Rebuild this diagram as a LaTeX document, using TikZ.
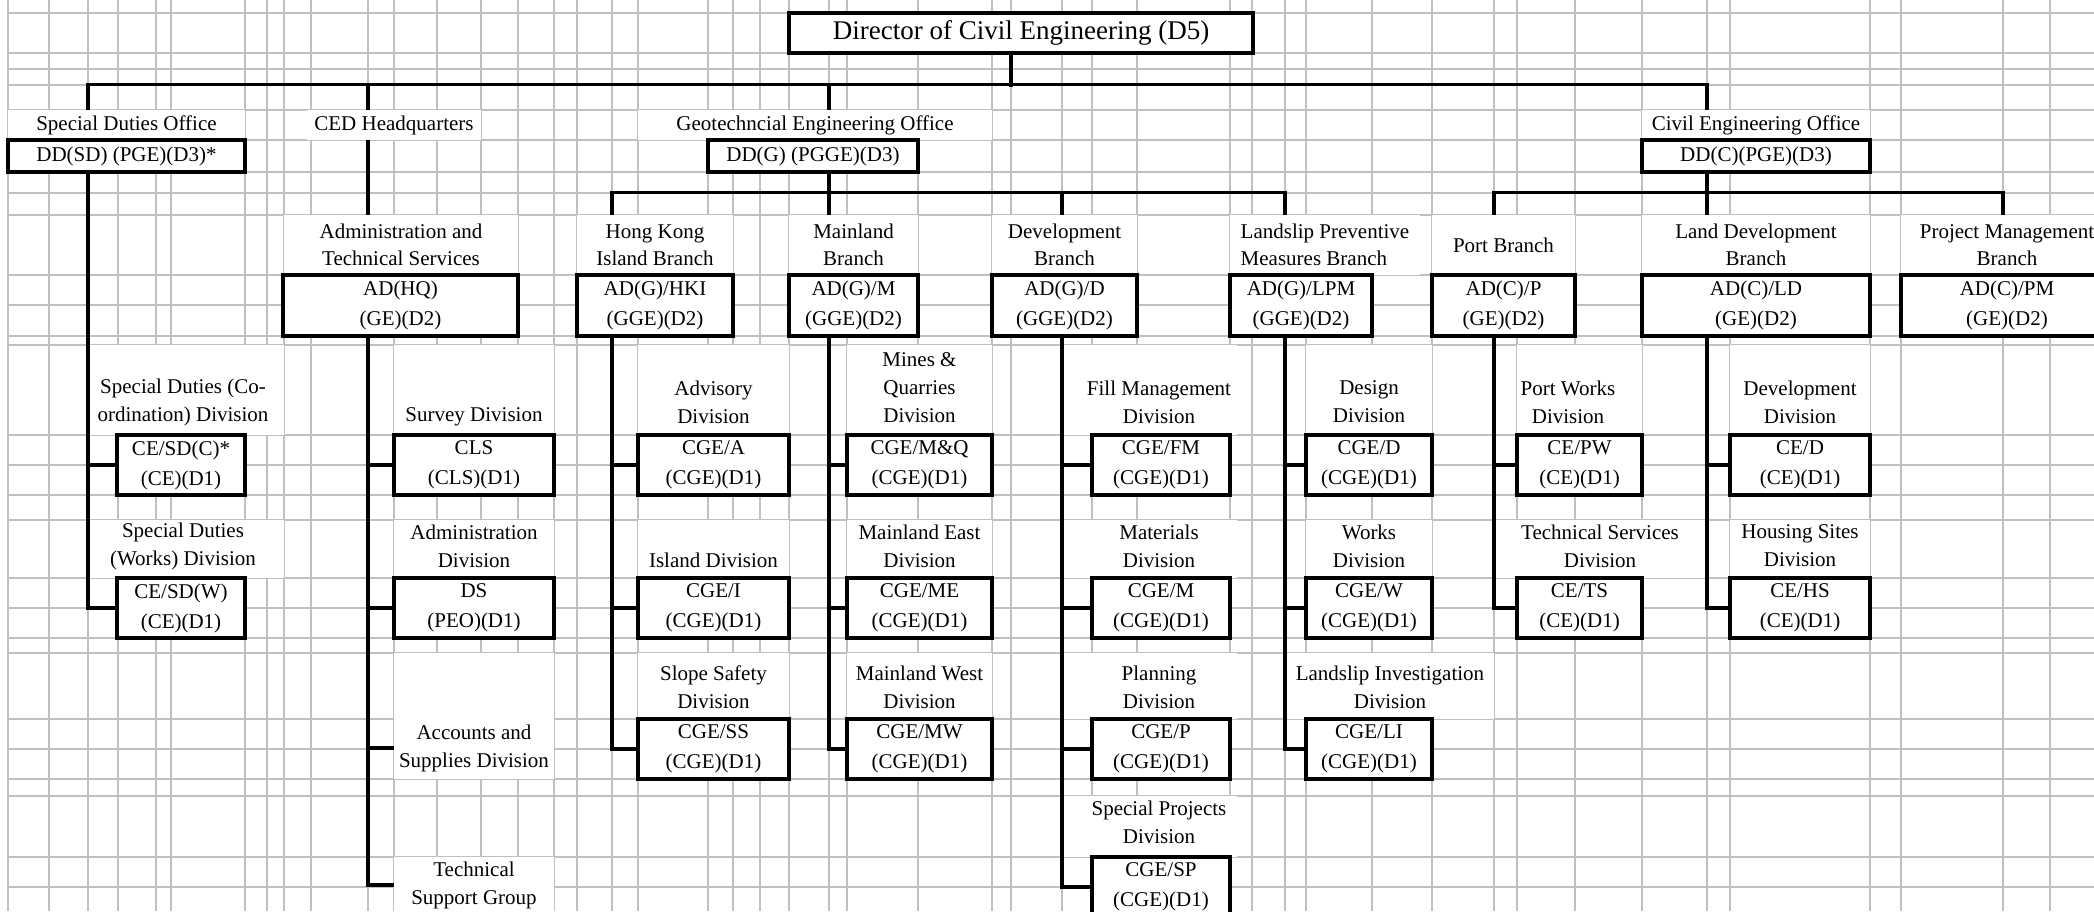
\documentclass[tikz,border=0pt]{standalone}
\usepackage{fontspec}
\setmainfont{Liberation Serif}
\usepackage{tikz}
\usetikzlibrary{positioning, calc}

\definecolor{gridgrey}{RGB}{192,192,192}
\tikzset{
  gridline/.style={draw=gridgrey, line width=1pt},
  link/.style={line width=1.8pt},
  post/.style 2 args={draw, line width=1.8pt, fill=white, align=center, inner sep=0pt,
    minimum width=#1*0.5pt, minimum height=#2*0.5pt, font=\fontsize{10.5}{15}\selectfont},
  cell/.style 2 args={fill=white, align=center, inner sep=0pt,
    minimum width=#1*0.5pt, minimum height=#2*0.5pt, font=\fontsize{10.5}{13.5}\selectfont},
  lbl/.style={align=center, inner sep=0pt, font=\fontsize{10.5}{14}\selectfont},
}

\begin{document}
\begin{tikzpicture}[x=0.5pt,y=-0.5pt]
      \useasboundingbox (0,0) rectangle (2094,911);
      \clip (0,0) rectangle (2094,911);
      % spreadsheet grid
      \foreach \gx in {8,49,88,118,156,171,245,267,284,311,368,394,437,481,518,554,577,612,638,708,733,760,789,829,847,918,992,1011,1062,1092,1137,1230,1252,1285,1306,1372,1432,1494,1517,1575,1642,1707,1730,1870,1901,2003,2050}
        \draw[gridline] (\gx,0) -- (\gx,911);
      \foreach \gy in {13,53,69,85,110,140,172,193,215,275,305,336,345,435,465,495,520,578,608,638,653,719,749,779,796,857,887}
        \draw[gridline] (8,\gy) -- (2094,\gy);
      % merged label cells
      \foreach \xa/\xb/\ya/\yb in {88/284/345/435, 88/284/520/578,
          394/554/345/435, 394/554/520/578, 394/554/653/779, 394/554/857/911,
          638/789/345/435, 638/789/520/578, 638/789/653/719,
          847/992/345/435, 847/992/520/578, 847/992/653/719,
          1062/1237/345/435, 1062/1237/520/578, 1062/1237/653/719, 1062/1237/796/857,
          1306/1432/345/435, 1306/1432/520/578, 1285/1494/653/719,
          1517/1642/345/435, 1494/1707/520/578,
          1730/1870/345/435, 1730/1870/520/578}
        \fill[white] (\xa,\ya) rectangle (\xb,\yb);

      % trunk columns
      \coordinate (xsd) at (88,0);
      \coordinate (xced) at (368,0);
      \coordinate (xhki) at (612,0);
      \coordinate (xml) at (829,0);
      \coordinate (xdce) at (1011,0);
      \coordinate (xdev) at (1062,0);
      \coordinate (xlpm) at (1285,0);
      \coordinate (xport) at (1494,0);
      \coordinate (xld) at (1707,0);
      \coordinate (xpm) at (2003,0);

      % director
      \node[post={464}{40}, line width=2.2pt, font=\fontsize{13.5}{16}\selectfont] (dce) at (1021,33) {Director of Civil Engineering (D5)};

      % offices
      \node[cell={237}{30}] (sdo) at (126.5,125) {Special Duties Office};
      \node[cell={174}{30}] (ced) at (394,125) {CED Headquarters};
      \node[cell={354}{30}] (geo) at (815,125) {Geotechncial Engineering Office};
      \node[cell={228}{30}] (ceo) at (1756,125) {Civil Engineering Office};
      \node[post={237}{32}] (ddsd) at (126.5,156) {DD(SD) (PGE)(D3)*};
      \node[post={210}{32}] (ddg) at (813,156) {DD(G) (PGGE)(D3)};
      \node[post={228}{32}] (ddc) at (1756,156) {DD(C)(PGE)(D3)};

      % branches
      \node[cell={234}{60}] (ats) at (401,245) {Administration and\\Technical Services};
      \node[cell={156}{60}] (hkb) at (655,245) {Hong Kong\\Island Branch};
      \node[cell={129}{60}] (mlb) at (853.5,245) {Mainland\\Branch};
      \node[cell={145}{60}] (dvb) at (1064.5,245) {Development\\Branch};
      \node[cell={190}{60}, align=left] (lpb) at (1325,245) {Landslip Preventive\\Measures Branch};
      \node[cell={143}{60}] (ptb) at (1503.5,245) {Port Branch};
      \node[cell={228}{60}] (ldb) at (1756,245) {Land Development\\Branch};
      \node[cell={212}{60}] (pmb) at (2007,245) {Project Management\\Branch};
      \node[post={235}{61}] (adhq) at (400.5,305.5) {AD(HQ)\\(GE)(D2)};
      \node[post={156}{61}] (adhki) at (655,305.5) {AD(G)/HKI\\(GGE)(D2)};
      \node[post={129}{61}] (adm) at (853.5,305.5) {AD(G)/M\\(GGE)(D2)};
      \node[post={145}{61}] (add) at (1064.5,305.5) {AD(G)/D\\(GGE)(D2)};
      \node[post={142}{61}] (adlpm) at (1301,305.5) {AD(G)/LPM\\(GGE)(D2)};
      \node[post={143}{61}] (adp) at (1503.5,305.5) {AD(C)/P\\(GE)(D2)};
      \node[post={228}{61}] (adld) at (1756,305.5) {AD(C)/LD\\(GE)(D2)};
      \node[post={212}{61}] (adpm) at (2007,305.5) {AD(C)/PM\\(GE)(D2)};

      % special duties divisions
      \node[lbl] (sdcl) at (183,402) {Special Duties (Co-\\ordination) Division};
      \node[post={128}{60}] (sdc) at (181,465) {CE/SD(C)*\\(CE)(D1)};
      \node[lbl] (sdwl) at (183,546) {Special Duties\\(Works) Division};
      \node[post={128}{60}] (sdw) at (181,608) {CE/SD(W)\\(CE)(D1)};

      % headquarters divisions
      \node[lbl] (svyl) at (474,417) {Survey Division};
      \node[post={160}{60}] (cls) at (474,465) {CLS\\(CLS)(D1)};
      \node[lbl] (adml) at (474,546) {Administration\\Division};
      \node[post={160}{60}] (ds) at (474,608) {DS\\(PEO)(D1)};
      \node[lbl, minimum width=80pt] (acc) at (474,748) {Accounts and\\Supplies Division};
      \node[lbl, minimum width=80pt] (tsg) at (474,885) {Technical\\Support Group};

      % geotechnical divisions
      \node[lbl] (advl) at (713.5,402) {Advisory\\Division};
      \node[post={151}{60}] (cgea) at (713.5,465) {CGE/A\\(CGE)(D1)};
      \node[lbl] (isdl) at (713.5,560) {Island Division};
      \node[post={151}{60}] (cgei) at (713.5,608) {CGE/I\\(CGE)(D1)};
      \node[lbl] (ssdl) at (713.5,687) {Slope Safety\\Division};
      \node[post={151}{60}] (cgess) at (713.5,749) {CGE/SS\\(CGE)(D1)};

      \node[lbl] (mqdl) at (919.5,388) {Mines \&\\Quarries\\Division};
      \node[post={145}{60}] (cgemq) at (919.5,465) {CGE/M\&Q\\(CGE)(D1)};
      \node[lbl] (medl) at (919.5,546) {Mainland East\\Division};
      \node[post={145}{60}] (cgeme) at (919.5,608) {CGE/ME\\(CGE)(D1)};
      \node[lbl] (mwdl) at (919.5,687) {Mainland West\\Division};
      \node[post={145}{60}] (cgemw) at (919.5,749) {CGE/MW\\(CGE)(D1)};

      \node[lbl] (fmdl) at (1159,402) {Fill Management\\Division};
      \node[post={138}{60}] (cgefm) at (1161,465) {CGE/FM\\(CGE)(D1)};
      \node[lbl] (matl) at (1159,546) {Materials\\Division};
      \node[post={138}{60}] (cgem) at (1161,608) {CGE/M\\(CGE)(D1)};
      \node[lbl] (plnl) at (1159,687) {Planning\\Division};
      \node[post={138}{60}] (cgep) at (1161,749) {CGE/P\\(CGE)(D1)};
      \node[lbl] (spdl) at (1159,822) {Special Projects\\Division};
      \node[post={138}{60}] (cgesp) at (1161,887) {CGE/SP\\(CGE)(D1)};

      \node[lbl] (desl) at (1369,402) {Design\\Division};
      \node[post={126}{60}] (cged) at (1369,465) {CGE/D\\(CGE)(D1)};
      \node[lbl] (wksl) at (1369,546) {Works\\Division};
      \node[post={126}{60}] (cgew) at (1369,608) {CGE/W\\(CGE)(D1)};
      \node[lbl] (lidl) at (1390,687) {Landslip Investigation\\Division};
      \node[post={126}{60}] (cgeli) at (1369,749) {CGE/LI\\(CGE)(D1)};

      % civil engineering divisions
      \node[lbl] (pwdl) at (1568,402) {Port Works\\Division};
      \node[post={125}{60}] (cepw) at (1579.5,465) {CE/PW\\(CE)(D1)};
      \node[lbl] (tsdl) at (1600,546) {Technical Services\\Division};
      \node[post={125}{60}] (cets) at (1579.5,608) {CE/TS\\(CE)(D1)};
      \node[lbl] (dvdl) at (1800,402) {Development\\Division};
      \node[post={140}{60}] (cedv) at (1800,465) {CE/D\\(CE)(D1)};
      \node[lbl] (hsdl) at (1800,546) {Housing Sites\\Division};
      \node[post={140}{60}] (ceh) at (1800,608) {CE/HS\\(CE)(D1)};

      % top level links
      \draw[link] (dce.south -| xdce) -- ++(0,32);
      \draw[link] (sdo.north -| xsd) -- ++(0,-25) -| (ceo.north -| xld);
      \draw[link] (ced.north -| xced) -- ++(0,-25);
      \draw[link] (geo.north -| xml) -- ++(0,-25);
      \draw[link] (ced.south -| xced) -- (ats.north -| xced);
      \draw[link] (ddg.south -| xml) -- ++(0,21);
      \draw[link] (hkb.north -| xhki) -- ++(0,-22) -| (lpb.north -| xlpm);
      \draw[link] (mlb.north -| xml) -- ++(0,-22);
      \draw[link] (dvb.north -| xdev) -- ++(0,-22);
      \draw[link] (ddc.south -| xld) -- ++(0,21);
      \draw[link] (ptb.north -| xport) -- ++(0,-22) -| (pmb.north -| xpm);
      \draw[link] (ldb.north -| xld) -- ++(0,-22);

      % division trunks
      \foreach \up/\x/\dn in {ddsd/xsd/sdc, ddsd/xsd/sdw,
          adhq/xced/cls, adhq/xced/ds, adhq/xced/acc, adhq/xced/tsg,
          adhki/xhki/cgea, adhki/xhki/cgei, adhki/xhki/cgess,
          adm/xml/cgemq, adm/xml/cgeme, adm/xml/cgemw,
          add/xdev/cgefm, add/xdev/cgem, add/xdev/cgep, add/xdev/cgesp,
          adlpm/xlpm/cged, adlpm/xlpm/cgew, adlpm/xlpm/cgeli,
          adp/xport/cepw, adp/xport/cets,
          adld/xld/cedv, adld/xld/ceh}
        \draw[link] (\up.south -| \x) |- (\dn.west);
    \end{tikzpicture}
\end{document}
